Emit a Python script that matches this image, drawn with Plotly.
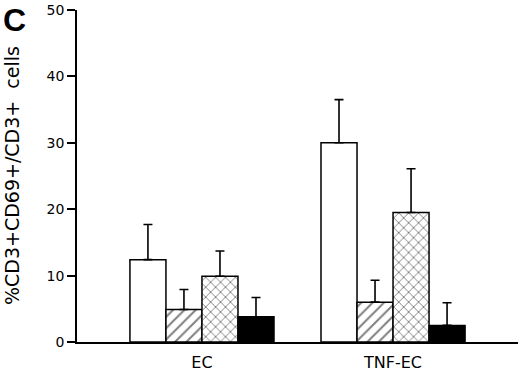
import plotly.graph_objects as go

categories = ["EC", "TNF-EC"]
series_names = ["open", "hatched", "crosshatched", "solid"]
values_open = [12.4, 30.0]
values_hatched = [4.9, 6.0]
values_cross = [9.9, 19.5]
values_solid = [3.8, 2.5]
err_open = [5.3, 6.5]
err_hatched = [3.0, 3.3]
err_cross = [3.8, 6.6]
err_solid = [2.9, 3.4]
y_ticks = [0, 10, 20, 30, 40, 50]

FONT = "DejaVu Sans"

styles = [
    dict(color="white", pattern=None),
    dict(color="white", pattern=dict(shape="/", fgcolor="black", bgcolor="white", size=8, solidity=0.25)),
    dict(color="white", pattern=dict(shape="x", fgcolor="black", bgcolor="white", size=7, solidity=0.25)),
    dict(color="black", pattern=None),
]
vals = [values_open, values_hatched, values_cross, values_solid]
errs = [err_open, err_hatched, err_cross, err_solid]

fig = go.Figure()
for name, v, e, st in zip(series_names, vals, errs, styles):
    marker = dict(color=st["color"], line=dict(color="black", width=1.5))
    if st["pattern"] is not None:
        marker["pattern"] = st["pattern"]
    fig.add_trace(go.Bar(
        x=categories, y=v, name=name, marker=marker,
        error_y=dict(type="data", symmetric=False, array=e, arrayminus=[0] * len(e),
                     color="black", thickness=1.6, width=4.5),
    ))

fig.update_layout(
    width=520, height=374,
    margin=dict(l=77, r=2, t=10, b=30),
    paper_bgcolor="white", plot_bgcolor="white",
    barmode="group", bargap=0.246, bargroupgap=0,
    showlegend=False,
    font=dict(family=FONT, color="black"),
    xaxis=dict(
        range=[-0.654, 1.654], showline=True, linecolor="black", linewidth=1.8,
        ticks="", showgrid=False, zeroline=False,
        tickfont=dict(size=16, family=FONT), ticklabelstandoff=5,
    ),
    yaxis=dict(
        range=[0, 50], tickvals=y_ticks, showline=True, linecolor="black", linewidth=1.8,
        ticks="outside", ticklen=8, tickwidth=1.5, tickcolor="black",
        showgrid=False, zeroline=False,
        tickfont=dict(size=14, family=FONT),
    ),
    annotations=[
        dict(text="%CD3+CD69+/CD3+  cells", xref="paper", yref="paper",
             x=-77 / 441 + 12 / 441, y=0.5, xanchor="center", yanchor="middle",
             textangle=-90, showarrow=False, font=dict(size=19, family=FONT)),
        dict(text="<b>C</b>", xref="paper", yref="paper",
             x=-77 / 441 + 1 / 441, y=1 + 10 / 334, xanchor="left", yanchor="top",
             showarrow=False, font=dict(size=32, family="Liberation Sans")),
    ],
)

fig.write_html("out.html", config={"displayModeBar": False},
               post_script="document.body.style.margin='0';document.body.style.overflow='hidden';")
